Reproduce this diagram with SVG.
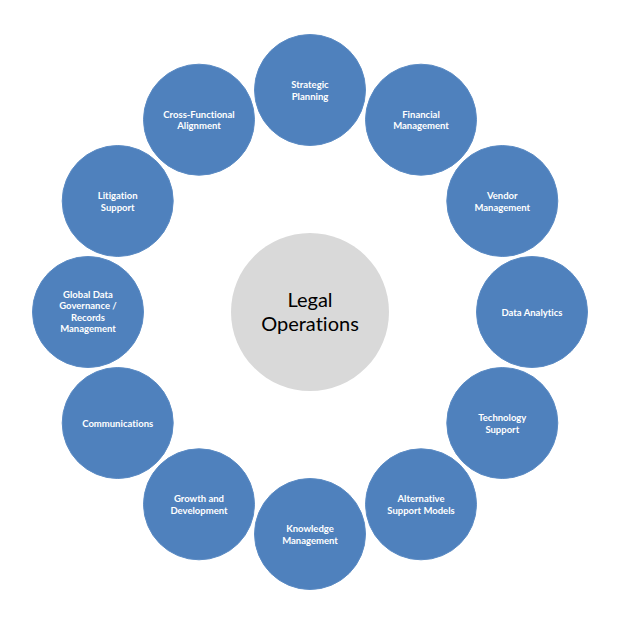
<svg xmlns="http://www.w3.org/2000/svg" width="623" height="627" viewBox="0 0 623 627">
<style>
.n{fill:#4F81BD;stroke:#5B8BC4;stroke-width:1}
.c{fill:#D9D9D9}
.t{font-family:Lato,"Open Sans","Liberation Sans",sans-serif;font-weight:bold;font-size:9.5px;fill:#FFFFFF;text-anchor:middle;font-variant-ligatures:none}
.ct{font-family:Lato,"Open Sans","Liberation Sans",sans-serif;font-size:20px;fill:#000000;text-anchor:middle;font-variant-ligatures:none}
</style>
<rect width="623" height="627" fill="#FFFFFF"/>
<g id="connectors"></g>
<g id="center"><circle class="c" cx="310" cy="312" r="79"/><text class="ct" x="310" y="307">Legal</text><text class="ct" x="310" y="331">Operations</text></g>
<g id="strategic-planning"><circle class="n" cx="310" cy="90" r="55.5"/><text class="t" x="310" y="88">Strategic</text><text class="t" x="310" y="99.5">Planning</text></g>
<g id="financial-management"><circle class="n" cx="421" cy="119.7" r="55.5"/><text class="t" x="421" y="117.7">Financial</text><text class="t" x="421" y="129.2">Management</text></g>
<g id="vendor-management"><circle class="n" cx="502.3" cy="201" r="55.5"/><text class="t" x="502.3" y="199">Vendor</text><text class="t" x="502.3" y="210.5">Management</text></g>
<g id="data-analytics"><circle class="n" cx="532" cy="312" r="55.5"/><text class="t" x="532" y="316">Data Analytics</text></g>
<g id="technology-support"><circle class="n" cx="502.3" cy="423" r="55.5"/><text class="t" x="502.3" y="421">Technology</text><text class="t" x="502.3" y="432.5">Support</text></g>
<g id="alternative-support-models"><circle class="n" cx="421" cy="504.3" r="55.5"/><text class="t" x="421" y="502.3">Alternative</text><text class="t" x="421" y="513.8">Support Models</text></g>
<g id="knowledge-management"><circle class="n" cx="310" cy="534" r="55.5"/><text class="t" x="310" y="532">Knowledge</text><text class="t" x="310" y="543.5">Management</text></g>
<g id="growth-and-development"><circle class="n" cx="199" cy="504.3" r="55.5"/><text class="t" x="199" y="502.3">Growth and</text><text class="t" x="199" y="513.8">Development</text></g>
<g id="communications"><circle class="n" cx="117.7" cy="423" r="55.5"/><text class="t" x="117.7" y="427">Communications</text></g>
<g id="global-data-governance"><circle class="n" cx="88" cy="312" r="55.5"/><text class="t" x="88" y="297.5">Global Data</text><text class="t" x="88" y="309">Governance /</text><text class="t" x="88" y="320.5">Records</text><text class="t" x="88" y="332">Management</text></g>
<g id="litigation-support"><circle class="n" cx="117.7" cy="201" r="55.5"/><text class="t" x="117.7" y="199">Litigation</text><text class="t" x="117.7" y="210.5">Support</text></g>
<g id="cross-functional-alignment"><circle class="n" cx="199" cy="119.7" r="55.5"/><text class="t" x="199" y="117.7">Cross-Functional</text><text class="t" x="199" y="129.2">Alignment</text></g>
</svg>
